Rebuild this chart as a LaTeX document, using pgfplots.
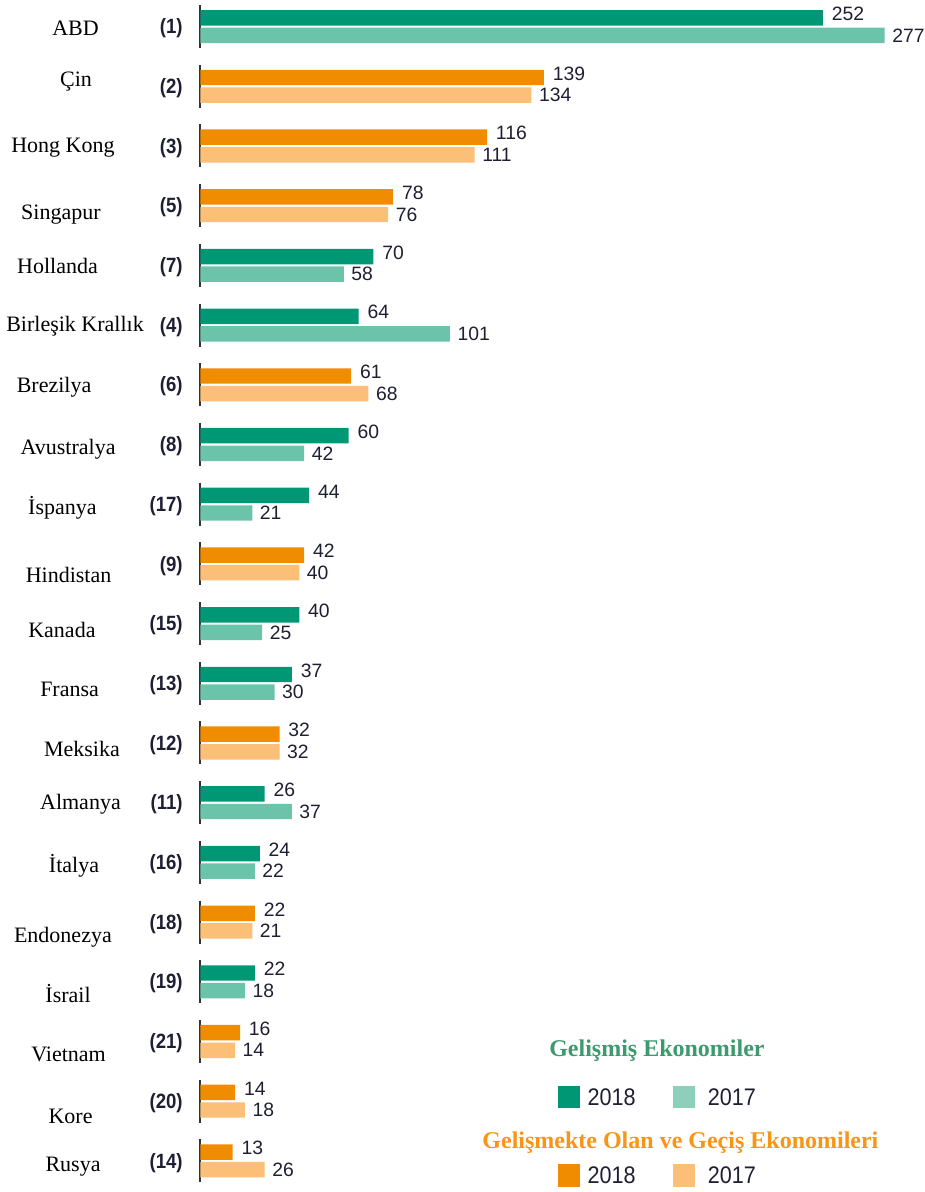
\documentclass[border=0pt]{standalone}
\usepackage{fontspec}
\setmainfont{Liberation Serif}
\newfontfamily\arial{Liberation Sans}
\newfontfamily\arialn[FakeStretch=0.9]{Liberation Sans}
\usepackage{pgfplots}
\pgfplotsset{compat=1.18}
\definecolor{devdark}{HTML}{009874}
\definecolor{devlight}{HTML}{6BC3AA}
\definecolor{devleg}{HTML}{8DCFBB}
\definecolor{emgdark}{HTML}{F08C00}
\definecolor{emglight}{HTML}{FBBF78}
\definecolor{axisgray}{HTML}{333333}
\definecolor{lbl}{HTML}{1F1F33}
\definecolor{gtitle}{HTML}{3D9A6E}
\definecolor{otitle}{HTML}{FA9414}
\begin{document}
\begin{tikzpicture}
\begin{axis}[
  x=1.8525pt, y=44.775pt,
  xmin=-81.17, xmax=293.32, ymin=-0.521, ymax=19.4456,
  hide axis, clip=false,
  /pgf/number format/assume math mode=true,
  lab18/.style={nodes near coords, nodes near coords style={anchor=west, inner sep=0pt, xshift=6.5pt, yshift=9.6pt, font=\arial\fontsize{14.5}{14.5}\selectfont, text=lbl}},
  lab17/.style={nodes near coords, nodes near coords style={anchor=west, inner sep=0pt, xshift=5.5pt, yshift=-6.6pt, font=\arial\fontsize{14.5}{14.5}\selectfont, text=lbl}},
]
% group axis segments
\addplot[axisgray, line width=1.5pt, unbounded coords=jump]
  coordinates {(0,19.36)(0,18.64)(nan,nan)(0,18.36)(0,17.64)(nan,nan)(0,17.36)(0,16.64)(nan,nan)
  (0,16.36)(0,15.64)(nan,nan)(0,15.36)(0,14.64)(nan,nan)(0,14.36)(0,13.64)(nan,nan)
  (0,13.36)(0,12.64)(nan,nan)(0,12.36)(0,11.64)(nan,nan)(0,11.36)(0,10.64)(nan,nan)
  (0,10.36)(0,9.64)(nan,nan)(0,9.36)(0,8.64)(nan,nan)(0,8.36)(0,7.64)(nan,nan)
  (0,7.36)(0,6.64)(nan,nan)(0,6.36)(0,5.64)(nan,nan)(0,5.36)(0,4.64)(nan,nan)
  (0,4.36)(0,3.64)(nan,nan)(0,3.36)(0,2.64)(nan,nan)(0,2.36)(0,1.64)(nan,nan)
  (0,1.36)(0,0.64)(nan,nan)(0,0.36)(0,-0.36)};
% developed 2018
\addplot[xbar, bar width=11.6pt, bar shift=6.6pt, fill=devdark, draw=none, lab18]
  coordinates {(252,19) (70,15) (64,14) (60,12) (44,11) (40,9) (37,8) (26,6) (24,5) (22,3)};
% developed 2017
\addplot[xbar, bar width=11.6pt, bar shift=-6.6pt, fill=devlight, draw=none, lab17]
  coordinates {(277,19) (58,15) (101,14) (42,12) (21,11) (25,9) (30,8) (37,6) (22,5) (18,3)};
% emerging 2018
\addplot[xbar, bar width=11.6pt, bar shift=6.6pt, fill=emgdark, draw=none, lab18]
  coordinates {(139,18) (116,17) (78,16) (61,13) (42,10) (32,7) (22,4) (16,2) (14,1) (13,0)};
% emerging 2017
\addplot[xbar, bar width=11.6pt, bar shift=-6.6pt, fill=emglight, draw=none, lab17]
  coordinates {(134,18) (111,17) (76,16) (68,13) (40,10) (32,7) (21,4) (14,2) (18,1) (26,0)};
% legend squares
\addplot[only marks, mark=square*, mark size=7.9pt, color=devdark, mark options={rounded corners=2pt}] coordinates {(149.0,1.07)};
\addplot[only marks, mark=square*, mark size=7.9pt, color=devleg, mark options={rounded corners=2pt}] coordinates {(195.7,1.07)};
\addplot[only marks, mark=square*, mark size=7.9pt, color=emgdark, mark options={rounded corners=2pt}] coordinates {(149.0,-0.241)};
\addplot[only marks, mark=square*, mark size=7.9pt, color=emglight, mark options={rounded corners=2pt}] coordinates {(195.7,-0.241)};
% ranks
\begin{scope}[every node/.style={anchor=east, inner sep=0pt, font=\arialn\bfseries\fontsize{15.5}{15.5}\selectfont, text=lbl}]
\node at (axis cs:-7.1,18.97) {(1)};
\node at (axis cs:-7.1,17.97) {(2)};
\node at (axis cs:-7.1,16.97) {(3)};
\node at (axis cs:-7.1,15.97) {(5)};
\node at (axis cs:-7.1,14.97) {(7)};
\node at (axis cs:-7.1,13.97) {(4)};
\node at (axis cs:-7.1,12.97) {(6)};
\node at (axis cs:-7.1,11.97) {(8)};
\node at (axis cs:-7.1,10.97) {(17)};
\node at (axis cs:-7.1,9.97) {(9)};
\node at (axis cs:-7.1,8.97) {(15)};
\node at (axis cs:-7.1,7.97) {(13)};
\node at (axis cs:-7.1,6.97) {(12)};
\node at (axis cs:-7.1,5.97) {(11)};
\node at (axis cs:-7.1,4.97) {(16)};
\node at (axis cs:-7.1,3.97) {(18)};
\node at (axis cs:-7.1,2.97) {(19)};
\node at (axis cs:-7.1,1.97) {(21)};
\node at (axis cs:-7.1,0.97) {(20)};
\node at (axis cs:-7.1,-0.03) {(14)};
\end{scope}
% country names
\begin{scope}[every node/.style={anchor=center, inner sep=0pt, font=\fontsize{16.5}{16.5}\selectfont}]
\node at (axis cs:-50.6,18.977) {ABD};
\node at (axis cs:-50.4,18.072) {Çin};
\node at (axis cs:-55.7,16.966) {Hong Kong};
\node at (axis cs:-56.5,15.844) {Singapur};
\node at (axis cs:-57.9,14.990) {Hollanda};
\node at (axis cs:-50.8,13.985) {Birleşik Krallık};
\node at (axis cs:-59.3,12.963) {Brezilya};
\node at (axis cs:-53.6,11.925) {Avustralya};
\node at (axis cs:-55.9,10.936) {İspanya};
\node at (axis cs:-53.4,9.814) {Hindistan};
\node at (axis cs:-56.1,8.893) {Kanada};
\node at (axis cs:-53.0,7.904) {Fransa};
\node at (axis cs:-48.0,6.899) {Meksika};
\node at (axis cs:-48.6,5.978) {Almanya};
\node at (axis cs:-51.2,4.940) {İtalya};
\node at (axis cs:-55.7,3.750) {Endonezya};
\node at (axis cs:-53.6,2.796) {İsrail};
\node at (axis cs:-53.4,1.791) {Vietnam};
\node at (axis cs:-52.6,0.752) {Kore};
\node at (axis cs:-51.6,-0.102) {Rusya};
\end{scope}
% legend texts
\node[font=\bfseries\fontsize{18}{18}\selectfont, text=gtitle, inner sep=0pt] at (axis cs:184.8,1.841) {Gelişmiş Ekonomiler};
\node[font=\bfseries\fontsize{18}{18}\selectfont, text=otitle, inner sep=0pt] at (axis cs:194.3,0.300) {Gelişmekte Olan ve Geçiş Ekonomileri};
\begin{scope}[every node/.style={anchor=west, inner sep=0pt, font=\arialn\fontsize{18}{18}\selectfont, text=lbl}]
\node at (axis cs:156.6,1.07) {2018};
\node at (axis cs:205.3,1.07) {2017};
\node at (axis cs:156.6,-0.241) {2018};
\node at (axis cs:205.3,-0.241) {2017};
\end{scope}
\end{axis}
\pgfresetboundingbox
\path (current axis.south west) rectangle (current axis.north east);
\end{tikzpicture}
\end{document}
